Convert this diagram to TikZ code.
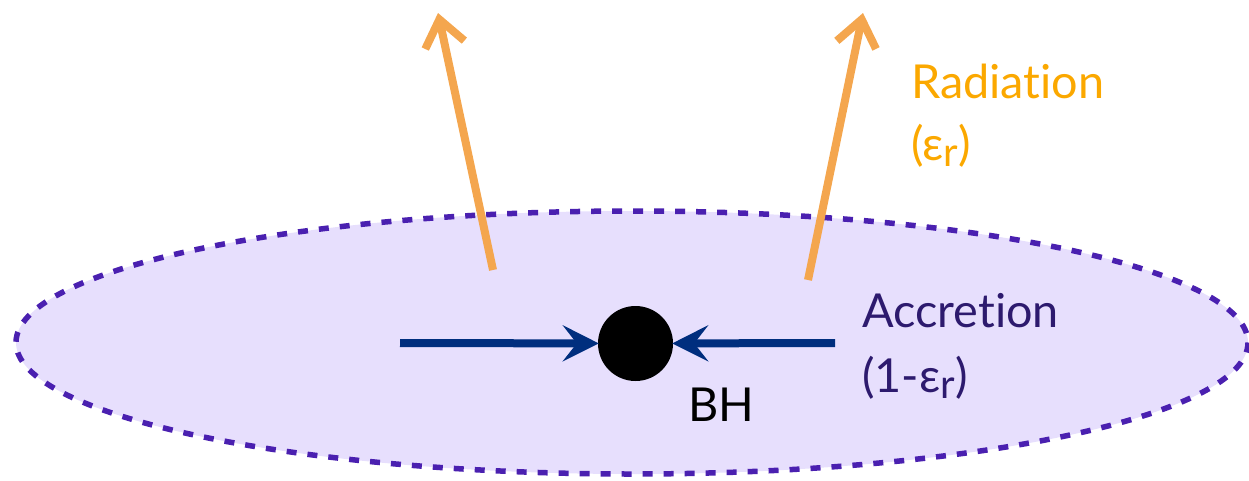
\documentclass[tikz,border=0pt]{standalone}
\usepackage{fontspec}
\setmainfont{Lato}[Ligatures={NoCommon,NoRare}]
\usepackage{xcolor}
\usetikzlibrary{arrows.meta,positioning}

\definecolor{diskfill}{HTML}{E7DFFD}
\definecolor{diskline}{HTML}{4A20B0}
\definecolor{accnavy}{HTML}{002E7E}
\definecolor{radarrow}{HTML}{F4A64E}
\definecolor{radtext}{HTML}{FBA800}
\definecolor{acctext}{HTML}{2D1A6E}

\newcommand{\epsr}{ε\raisebox{-6pt}{\fontsize{40}{40}\selectfont r}}

\begin{document}
\begin{tikzpicture}[
        x=1pt, y=-1pt,
        font=\fontsize{46.8}{56}\selectfont,
        every node/.style={inner sep=0pt},
        disk/.style ={fill=diskfill, draw=diskline, line width=5.5pt, dash pattern=on 10pt off 11pt},
        hole/.style ={circle, fill=black, minimum size=75pt},
        inflow/.style={-{Stealth[length=36pt, width=36pt, inset=14pt]}, line width=8pt, accnavy, shorten >=-1pt},
        outflow/.style={-{Straight Barb[length=26pt, width=40pt]}, line width=8pt, radarrow},
        lbl/.style   ={anchor=base west},
    ]
        \useasboundingbox (0,0) rectangle (1249,480);

        % --- disco ---
        \draw[disk] (632,342.5) ellipse [x radius=616, y radius=131.5];

        % --- agujero negro ---
        \node[hole] (bh) at (635.5,343.5) {};
        \node[lbl] (bhl) at (688,421) {BH};

        % --- acrecion ---
        \coordinate (inl) at (400,343);
        \coordinate (inr) at (835,343);
        \draw[inflow] (inl) -- (bh);
        \draw[inflow] (inr) -- (bh);

        % --- radiacion ---
        \coordinate (r1s) at (493,270);
        \coordinate (r1e) at (438,13);
        \coordinate (r2s) at (808,280);
        \coordinate (r2e) at (863,13);
        \draw[outflow] (r1s) -- (r1e);
        \draw[outflow] (r2s) -- (r2e);

        % --- etiquetas ---
        \node[lbl, text=radtext] (rad) at (911,98) {Radiation};
        \node[lbl, text=radtext] (radeps) at (911,160) {(\epsr)};
        \node[lbl, text=acctext] (acc) at (862,327) {Accretion};
        \node[lbl, text=acctext] (acceps) at (862,392) {(1-\epsr)};
    \end{tikzpicture}
\end{document}
